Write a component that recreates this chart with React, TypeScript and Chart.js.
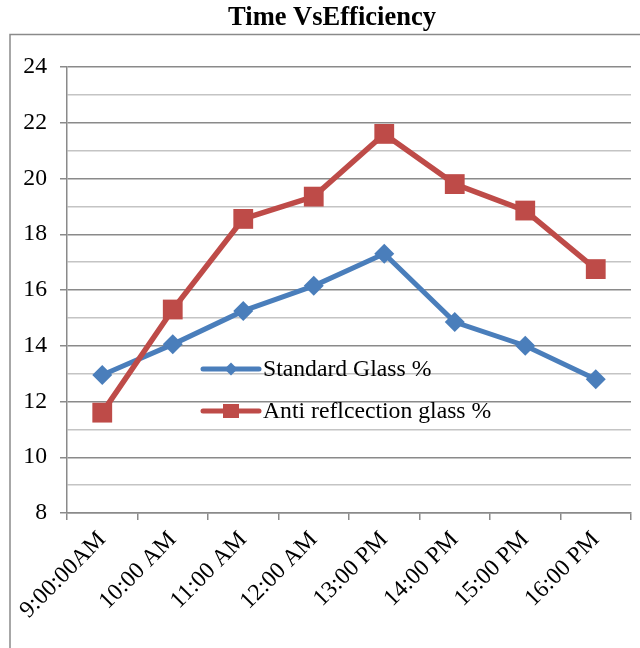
import React, { useEffect, useRef } from "react";
import { Chart, registerables } from "chart.js";

Chart.register(...registerables);

const chartTitle = "Time VsEfficiency";
const timeLabels = ["9:00:00AM", "10:00 AM", "11:00 AM", "12:00 AM", "13:00 PM", "14:00 PM", "15:00 PM", "16:00 PM"];
const standardGlass = [12.95, 14.05, 15.25, 16.15, 17.3, 14.85, 14.0, 12.8];
const antiReflection = [11.6, 15.3, 18.55, 19.35, 21.6, 19.8, 18.85, 16.75];
const seriesNames = ["Standard Glass %", "Anti reflcection glass %"];
const yMin = 8;
const yMax = 24;

const BLUE = "#4A7EBB";
const RED = "#BE4B48";
const MAJOR = "#8a8a8a";
const MINOR = "#c4c4c4";
const SERIF = '"Liberation Serif", "Times New Roman", serif';
const FONT_SIZE = 23.7;

function drawDiamond(ctx: CanvasRenderingContext2D, x: number, y: number, r: number) {
  ctx.beginPath();
  ctx.moveTo(x - r, y);
  ctx.lineTo(x, y - r);
  ctx.lineTo(x + r, y);
  ctx.lineTo(x, y + r);
  ctx.closePath();
  ctx.fill();
}

const decorPlugin = {
  id: "decor",
  beforeDraw(chart: any) {
    const ctx = chart.ctx as CanvasRenderingContext2D;
    ctx.save();
    ctx.fillStyle = "#ffffff";
    ctx.fillRect(0, 0, chart.width, chart.height);
    ctx.strokeStyle = MAJOR;
    ctx.lineWidth = 1.5;
    ctx.beginPath();
    ctx.moveTo(10, chart.height + 5);
    ctx.lineTo(10, 34.5);
    ctx.lineTo(chart.width + 5, 34.5);
    ctx.stroke();
    ctx.fillStyle = "#000";
    ctx.font = `bold 26.5px ${SERIF}`;
    ctx.textAlign = "center";
    ctx.textBaseline = "middle";
    ctx.fillText(chartTitle, 332, 18);
    ctx.restore();
  },
  afterDatasetsDraw(chart: any) {
    const ctx = chart.ctx as CanvasRenderingContext2D;
    ctx.save();
    const x0 = 203;
    const x1 = 259;
    const rows = [
      { y: 369, color: BLUE, kind: "diamond", name: seriesNames[0] },
      { y: 411, color: RED, kind: "square", name: seriesNames[1] },
    ];
    for (const row of rows) {
      ctx.strokeStyle = row.color;
      ctx.fillStyle = row.color;
      ctx.lineWidth = 5;
      ctx.lineCap = "round";
      ctx.beginPath();
      ctx.moveTo(x0, row.y);
      ctx.lineTo(x1, row.y);
      ctx.stroke();
      const cx = (x0 + x1) / 2;
      if (row.kind === "diamond") drawDiamond(ctx, cx, row.y, 6.5);
      else ctx.fillRect(cx - 8, row.y - 7, 16, 14);
      ctx.fillStyle = "#000";
      ctx.font = `${FONT_SIZE}px ${SERIF}`;
      ctx.textAlign = "left";
      ctx.textBaseline = "middle";
      ctx.fillText(row.name, 263, row.y + 1);
    }
    ctx.restore();
  },
};

export default function App() {
  const canvasRef = useRef<HTMLCanvasElement | null>(null);

  useEffect(() => {
    const canvas = canvasRef.current;
    if (!canvas) return;
    const chart = new Chart(canvas, {
      type: "line",
      data: {
        labels: timeLabels,
        datasets: [
          {
            label: seriesNames[0],
            data: standardGlass,
            borderColor: BLUE,
            backgroundColor: BLUE,
            borderWidth: 5,
            pointStyle: "rectRot",
            pointRadius: 10,
            pointBorderWidth: 0,
            pointBackgroundColor: BLUE,
            tension: 0,
            order: 1,
          },
          {
            label: seriesNames[1],
            data: antiReflection,
            borderColor: RED,
            backgroundColor: RED,
            borderWidth: 5.5,
            pointStyle: "rect",
            pointRadius: 14,
            pointBorderWidth: 0,
            pointBackgroundColor: RED,
            tension: 0,
            order: 0,
          },
        ],
      },
      options: {
        responsive: false,
        animation: false,
        devicePixelRatio: 1,
        layout: { autoPadding: false, padding: { top: 67, right: 9, left: 0, bottom: 0 } },
        plugins: {
          legend: { display: false },
          title: { display: false },
          tooltip: { enabled: false },
        },
        scales: {
          x: {
            type: "category",
            offset: true,
            afterFit: (s: any) => {
              s.height = 135;
              s.paddingLeft = 0;
              s.paddingRight = 0;
            },
            grid: {
              display: true,
              drawOnChartArea: false,
              drawTicks: true,
              tickLength: 7,
              offset: true,
              color: MAJOR,
              lineWidth: 1.5,
            },
            border: { display: true, color: MAJOR, width: 1.5 },
            ticks: {
              minRotation: 45,
              maxRotation: 45,
              padding: 6,
              color: "#000",
              font: { family: SERIF, size: FONT_SIZE },
              autoSkip: false,
            },
          },
          y: {
            min: yMin,
            max: yMax,
            afterFit: (s: any) => {
              s.width = 67;
            },
            grid: {
              color: (c: any) => (c.tick && c.tick.value % 2 === 0 ? MAJOR : MINOR),
              tickColor: (c: any) => (c.tick && c.tick.value % 2 === 0 ? MAJOR : "rgba(0,0,0,0)"),
              lineWidth: 1.5,
              tickLength: 7,
            },
            border: { display: true, color: MAJOR, width: 1.5 },
            ticks: {
              stepSize: 1,
              autoSkip: false,
              padding: 13,
              color: "#000",
              font: { family: SERIF, size: FONT_SIZE },
              callback: (v: any) => (Number(v) % 2 === 0 ? String(v) : ""),
            },
          },
        },
      },
      plugins: [decorPlugin],
    });
    return () => chart.destroy();
  }, []);

  return (
    <div style={{ position: "absolute", left: 0, top: 0, width: 640, height: 648, overflow: "hidden" }}>
      <canvas ref={canvasRef} width={640} height={648} style={{ display: "block", width: 640, height: 648 }} />
    </div>
  );
}
